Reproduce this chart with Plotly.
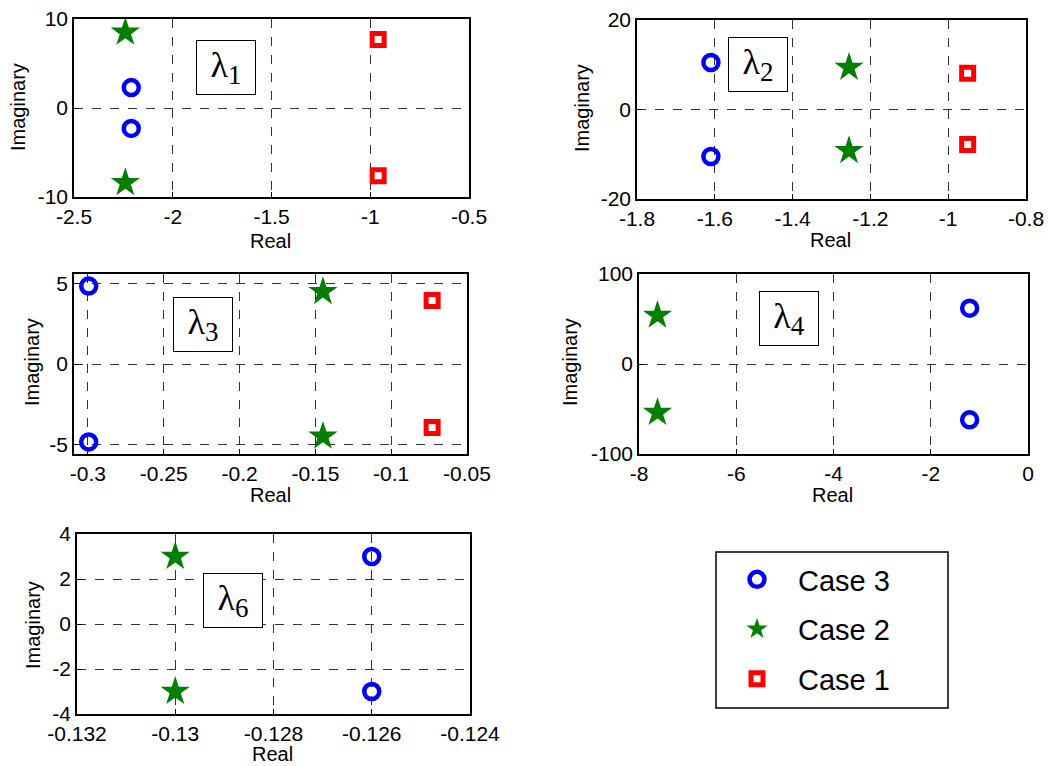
import plotly.graph_objects as go

# ---------------- data ----------------
cases = ["Case 3", "Case 2", "Case 1"]
colors = {"Case 3": "#0000FF", "Case 2": "#007F00", "Case 1": "#FF0000"}

# lambda_1
l1_case1_re = [-0.96, -0.96];   l1_case1_im = [7.7, -7.6]
l1_case2_re = [-2.24, -2.24];   l1_case2_im = [8.5, -8.4]
l1_case3_re = [-2.21, -2.21];   l1_case3_im = [2.3, -2.3]
# lambda_2
l2_case1_re = [-0.95, -0.95];   l2_case1_im = [8.1, -7.8]
l2_case2_re = [-1.255, -1.255]; l2_case2_im = [9.4, -9.2]
l2_case3_re = [-1.61, -1.61];   l2_case3_im = [10.5, -10.5]
# lambda_3
l3_case1_re = [-0.073, -0.073]; l3_case1_im = [3.95, -3.95]
l3_case2_re = [-0.145, -0.145]; l3_case2_im = [4.5, -4.5]
l3_case3_re = [-0.2995, -0.2995]; l3_case3_im = [4.85, -4.85]
# lambda_4
l4_case2_re = [-7.62, -7.62];   l4_case2_im = [54, -54]
l4_case3_re = [-1.2, -1.2];     l4_case3_im = [62, -62]
# lambda_6
l6_case2_re = [-0.13, -0.13];   l6_case2_im = [3.0, -3.0]
l6_case3_re = [-0.126, -0.126]; l6_case3_im = [3.0, -3.0]

# tick values / labels
x1_ticks = [-2.5, -2, -1.5, -1, -0.5];   x1_text = ["-2.5", "-2", "-1.5", "-1", "-0.5"]
y1_ticks = [-10, 0, 10];                 y1_text = ["-10", "0", "10"]
x2_ticks = [-1.8, -1.6, -1.4, -1.2, -1.0, -0.8]; x2_text = ["-1.8", "-1.6", "-1.4", "-1.2", "-1", "-0.8"]
y2_ticks = [-20, 0, 20];                 y2_text = ["-20", "0", "20"]
x3_ticks = [-0.3, -0.25, -0.2, -0.15, -0.1, -0.05]; x3_text = ["-0.3", "-0.25", "-0.2", "-0.15", "-0.1", "-0.05"]
y3_ticks = [-5, 0, 5];                   y3_text = ["-5", "0", "5"]
x4_ticks = [-8, -6, -4, -2, 0];          x4_text = ["-8", "-6", "-4", "-2", "0"]
y4_ticks = [-100, 0, 100];               y4_text = ["-100", "0", "100"]
x6_ticks = [-0.132, -0.13, -0.128, -0.126, -0.124]; x6_text = ["-0.132", "-0.13", "-0.128", "-0.126", "-0.124"]
y6_ticks = [-4, -2, 0, 2, 4];            y6_text = ["-4", "-2", "0", "2", "4"]

x_title = "Real"
y_title = "Imaginary"

# ---------------- figure ----------------
W, H = 1049, 766
FONT = "Liberation Sans, Arial, Helvetica, sans-serif"

def dom_x(a, b):
    return [a / W, b / W]

def dom_y(top, bottom):
    return [1 - bottom / H, 1 - top / H]

marker_style = {
    "Case 3": dict(symbol="circle-open", size=15, line=dict(width=4.5, color=colors["Case 3"]), color=colors["Case 3"]),
    "Case 2": dict(symbol="star", size=22, color=colors["Case 2"], line=dict(width=0)),
    "Case 1": dict(symbol="square-open", size=12, line=dict(width=5, color=colors["Case 1"]), color=colors["Case 1"]),
}

fig = go.Figure()

panels = [
    ("", {"Case 3": (l1_case3_re, l1_case3_im), "Case 2": (l1_case2_re, l1_case2_im), "Case 1": (l1_case1_re, l1_case1_im)}),
    ("2", {"Case 3": (l2_case3_re, l2_case3_im), "Case 2": (l2_case2_re, l2_case2_im), "Case 1": (l2_case1_re, l2_case1_im)}),
    ("3", {"Case 3": (l3_case3_re, l3_case3_im), "Case 2": (l3_case2_re, l3_case2_im), "Case 1": (l3_case1_re, l3_case1_im)}),
    ("4", {"Case 3": (l4_case3_re, l4_case3_im), "Case 2": (l4_case2_re, l4_case2_im)}),
    ("5", {"Case 3": (l6_case3_re, l6_case3_im), "Case 2": (l6_case2_re, l6_case2_im)}),
]

shown = set()
for suffix, data in panels:
    for case in cases:
        if case not in data:
            continue
        re, im = data[case]
        fig.add_trace(go.Scatter(
            x=re, y=im, mode="markers", name=case,
            legendgroup=case, showlegend=case not in shown,
            marker=marker_style[case],
            xaxis="x" + suffix, yaxis="y" + suffix,
        ))
        shown.add(case)

axis_common = dict(
    showline=True, linecolor="black", linewidth=1.5, mirror=True,
    ticks="inside", ticklen=5, tickcolor="black",
    showgrid=True, gridcolor="#333333", griddash="dash", gridwidth=1,
    zeroline=False, automargin=False,
    tickfont=dict(family=FONT, size=21, color="black"),
)

layout_axes = {}
specs = [
    ("", dom_x(74, 469), dom_y(19, 197), [-2.5, -0.5], [-10, 10], x1_ticks, x1_text, y1_ticks, y1_text),
    ("2", dom_x(637, 1026), dom_y(20, 199), [-1.8, -0.8], [-20, 20], x2_ticks, x2_text, y2_ticks, y2_text),
    ("3", dom_x(74, 467), dom_y(274, 454), [-0.3092, -0.05], [-5.6, 5.6], x3_ticks, x3_text, y3_ticks, y3_text),
    ("4", dom_x(639, 1028), dom_y(274, 454), [-8, 0], [-100, 100], x4_ticks, x4_text, y4_ticks, y4_text),
    ("5", dom_x(77, 470), dom_y(534, 714), [-0.132, -0.124], [-4, 4], x6_ticks, x6_text, y6_ticks, y6_text),
]
for suffix, dx, dy, xr, yr, xt, xtt, yt, ytt in specs:
    layout_axes["xaxis" + suffix] = dict(axis_common, domain=dx, range=xr, tickvals=xt, ticktext=xtt,
                                         anchor="y" + suffix)
    layout_axes["yaxis" + suffix] = dict(axis_common, domain=dy, range=yr, tickvals=yt, ticktext=ytt,
                                         anchor="x" + suffix)

fig.update_layout(**layout_axes)

# axis titles (placed as in the reference)
title_pos = [
    # (real_x, real_y, imag_x, imag_y)
    (270, 241, 18, 107),
    (830, 240, 582, 108),
    (270, 495, 32, 362),
    (832, 495, 570, 362),
    (272, 754, 33, 625),
]
for rx, ry, ix, iy in title_pos:
    fig.add_annotation(xref="paper", yref="paper", x=rx / W, y=1 - ry / H,
                       xanchor="center", yanchor="middle", showarrow=False,
                       text=x_title, font=dict(family=FONT, size=20, color="black"))
    fig.add_annotation(xref="paper", yref="paper", x=ix / W, y=1 - iy / H,
                       xanchor="center", yanchor="middle", showarrow=False, textangle=-90,
                       text=y_title, font=dict(family=FONT, size=20, color="black"))

# lambda labels in boxes
labels = [("1", 226, 67.5), ("2", 757.5, 64.5), ("3", 202.5, 324), ("4", 788.5, 318.5), ("6", 232.5, 600.5)]
for sub, cx, cy in labels:
    fig.add_annotation(
        xref="paper", yref="paper", x=cx / W, y=1 - cy / H,
        xanchor="center", yanchor="middle",
        text="λ<sub><span style='font-size:27px'>" + sub + "</span></sub>", showarrow=False,
        font=dict(family="Liberation Serif, Times New Roman, serif", size=36, color="black"),
        width=58, height=53, bordercolor="black", borderwidth=1, bgcolor="white", borderpad=0,
    )

# legend frame
fig.add_shape(type="rect", xref="paper", yref="paper",
              x0=716 / W, x1=948 / W, y0=1 - 708 / H, y1=1 - 552 / H,
              line=dict(color="black", width=1.5), fillcolor="rgba(0,0,0,0)", layer="above")

fig.update_layout(
    width=W, height=H,
    margin=dict(l=0, r=0, t=0, b=0),
    paper_bgcolor="white", plot_bgcolor="white",
    font=dict(family=FONT, color="black"),
    legend=dict(
        x=716 / W, y=1 - 554 / H, xanchor="left", yanchor="top",
        borderwidth=0, bgcolor="rgba(0,0,0,0)",
        font=dict(family=FONT, size=29, color="black"),
        traceorder="grouped", tracegroupgap=9,
        itemsizing="trace", itemwidth=72, indentation=0,
    ),
)

fig.write_html("out.html")
